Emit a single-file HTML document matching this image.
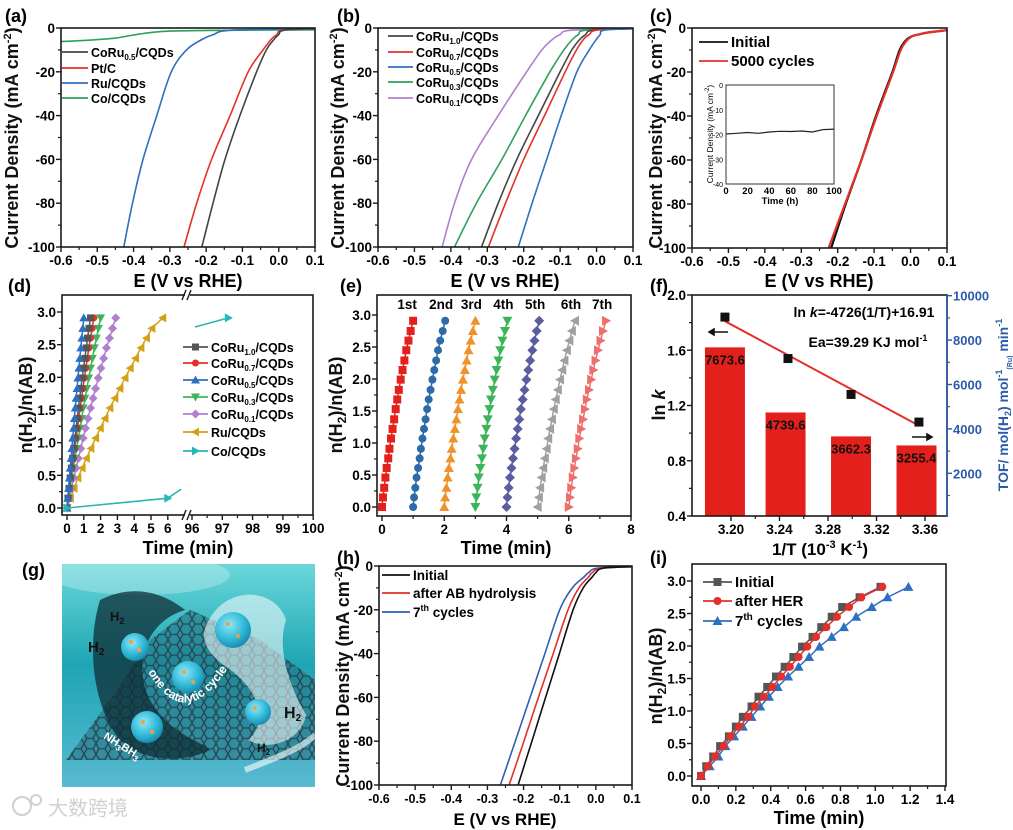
<!DOCTYPE html>
<html><head><meta charset="utf-8">
<style>
body{margin:0;background:#fff}
svg{display:block;font-family:"Liberation Sans","Noto Sans CJK SC",sans-serif;font-weight:bold}
</style></head>
<body>
<svg id="fig" xmlns="http://www.w3.org/2000/svg" width="1013" height="830" viewBox="0 0 1013 830">
<defs>
 <linearGradient id="bgG" x1="0" y1="0" x2="0" y2="1">
  <stop offset="0" stop-color="#6ad8da"/><stop offset="0.45" stop-color="#1ea5b4"/><stop offset="1" stop-color="#59b9d0"/>
 </linearGradient>
 <radialGradient id="sph" cx="0.4" cy="0.35" r="0.7">
  <stop offset="0" stop-color="#8fe8f5"/><stop offset="0.6" stop-color="#2fb8d8"/><stop offset="1" stop-color="#1686a8"/>
 </radialGradient>
 <pattern id="hex" width="12" height="10.4" patternUnits="userSpaceOnUse">
  <path d="M3 0 L9 0 L12 5.2 L9 10.4 L3 10.4 L0 5.2 Z" fill="none" stroke="#2a3a44" stroke-width="1.3"/>
 </pattern>
 <clipPath id="gclip"><rect x="62" y="564" width="253" height="223"/></clipPath>
</defs>

<g clip-path="url(#gclip)">
 <rect x="62" y="564" width="253" height="223" fill="url(#bgG)"/>
 <ellipse cx="140" cy="575" rx="90" ry="20" fill="#ffffff" opacity="0.25"/>
 <path d="M66 760 L110 700 L150 640 L190 610 L260 640 L315 680 L315 760 L200 760 Z" fill="#1f6f80" opacity="0.55"/>
 <path d="M66 760 L110 700 L150 640 L190 610 L260 640 L315 680 L315 760 L200 760 Z" fill="url(#hex)" opacity="0.85"/>
 <path d="M100 600 C130 585 160 590 185 610 C150 620 130 660 150 700 C170 735 200 740 210 750 C180 765 140 760 120 740 C95 710 85 650 100 600 Z" fill="#0f2e36" opacity="0.75"/>
 <path d="M210 620 C230 585 275 590 285 620 C275 650 290 690 305 715 C300 740 270 750 250 740 C275 715 250 680 225 665 C205 650 200 635 210 620 Z" fill="#ffffff" opacity="0.55" stroke="#ffffff" stroke-width="2"/>
 <circle cx="135" cy="647" r="14" fill="url(#sph)"/>
 <circle cx="188" cy="677" r="16" fill="url(#sph)"/>
 <circle cx="233" cy="630" r="18" fill="url(#sph)"/>
 <circle cx="258" cy="712" r="13" fill="url(#sph)"/>
 <circle cx="147" cy="727" r="16" fill="url(#sph)"/>
 <g fill="#f0a040">
  <circle cx="131" cy="642" r="2"/><circle cx="139" cy="650" r="2"/><circle cx="184" cy="672" r="2"/><circle cx="193" cy="682" r="2"/><circle cx="228" cy="624" r="2"/><circle cx="238" cy="636" r="2"/><circle cx="143" cy="722" r="2"/><circle cx="152" cy="732" r="2"/><circle cx="255" cy="708" r="2"/>
 </g>
 <path d="M245 770 C270 760 300 750 315 735" stroke="#ffffff" stroke-width="6" fill="none" opacity="0.6"/>
 <text x="110" y="621" font-size="13" fill="#111">H<tspan font-size="9" dy="3">2</tspan></text>
 <text x="88" y="652" font-size="15" fill="#111">H<tspan font-size="10" dy="3">2</tspan></text>
 <text x="284" y="718" font-size="16" fill="#111">H<tspan font-size="10" dy="3">2</tspan></text>
 <text x="257" y="752" font-size="12" fill="#111">H<tspan font-size="8" dy="3">2</tspan></text>
 <path id="arcP" d="M148 672 Q185 735 228 668" fill="none"/>
 <text font-size="12" fill="#ffffff"><textPath href="#arcP">one catalytic cycle</textPath></text>
 <text x="103" y="738" font-size="11" fill="#ffffff" transform="rotate(32 103 738)">NH<tspan font-size="8" dy="3">3</tspan><tspan dy="-3">BH</tspan><tspan font-size="8" dy="3">3</tspan></text>
</g>
<g>
 <circle cx="22" cy="806" r="9" fill="none" stroke="#d0d0d0" stroke-width="2"/>
 <circle cx="36" cy="800" r="5" fill="none" stroke="#d0d0d0" stroke-width="2"/>
 <text x="48" y="815" font-size="20" fill="#d0d0d0" font-weight="normal">大数跨境</text>
</g>
</svg>
<script>
// ---------- data ----------
const aCur=[-0.3,-1,-3,-5,-10,-20,-40,-60,-80,-100];
const aCoRu05=[0.1,0.015,0.0,-0.012,-0.034,-0.061,-0.107,-0.148,-0.181,-0.212];
const aPtC=[0.1,0.01,-0.005,-0.02,-0.043,-0.084,-0.134,-0.185,-0.226,-0.261];
const aRu=[0.1,-0.13,-0.18,-0.209,-0.254,-0.296,-0.336,-0.374,-0.403,-0.427];
const aCoE=[-0.6,-0.55,-0.5,-0.45,-0.4,-0.35,-0.3,-0.2,-0.1,0,0.1];
const aCoJ=[-6.2,-5.8,-5.3,-4.6,-3.2,-2.0,-1.4,-1.1,-1.0,-0.9,-0.8];

const bCur=[-0.3,-1,-3,-5,-10,-20,-40,-60,-80,-100];
const bCoRu10=[0.1,-0.01,-0.03,-0.045,-0.068,-0.1,-0.16,-0.219,-0.27,-0.316];
const bCoRu07=[0.1,0.0,-0.02,-0.035,-0.055,-0.086,-0.143,-0.2,-0.25,-0.297];
const bCoRu05=[0.1,0.02,0.01,0.0,-0.02,-0.054,-0.097,-0.137,-0.177,-0.215];
const bCoRu03=[0.1,-0.03,-0.05,-0.065,-0.09,-0.128,-0.195,-0.26,-0.33,-0.39];
const bCoRu01=[0.1,-0.07,-0.1,-0.12,-0.15,-0.192,-0.27,-0.343,-0.39,-0.424];

const cCur=[-1,-2,-3,-4,-6,-10,-20,-40,-60,-80,-100];
const cInitial=[0.1,0.05,0.02,0.0,-0.015,-0.03,-0.05,-0.095,-0.135,-0.178,-0.218];
const c5000=[0.1,0.05,0.02,0.002,-0.012,-0.027,-0.048,-0.093,-0.135,-0.18,-0.225];
const cInsetT=[0,10,20,30,40,50,60,70,80,90,100];
const cInsetJ=[-19.8,-19.5,-19.2,-19.5,-19,-18.7,-18.8,-18.6,-19,-18,-17.8];

const nY=[0,0.15,0.3,0.46,0.61,0.76,0.91,1.07,1.22,1.37,1.53,1.68,1.83,1.99,2.14,2.29,2.45,2.6,2.75,2.91];
const dCoRu10=[0,0.06,0.12,0.19,0.26,0.33,0.4,0.47,0.54,0.61,0.68,0.75,0.83,0.9,0.98,1.06,1.14,1.22,1.31,1.4];
const dCoRu07=[0,0.07,0.14,0.22,0.3,0.38,0.46,0.54,0.62,0.7,0.78,0.86,0.95,1.03,1.12,1.21,1.3,1.4,1.5,1.6];
const dCoRu05=[0,0.04,0.09,0.14,0.19,0.24,0.29,0.34,0.39,0.44,0.49,0.54,0.6,0.65,0.71,0.76,0.82,0.88,0.94,1.0];
const dCoRu03=[0,0.09,0.18,0.27,0.37,0.47,0.57,0.67,0.77,0.87,0.97,1.07,1.18,1.29,1.4,1.51,1.63,1.75,1.87,2.0];
const dCoRu01=[0,0.13,0.26,0.4,0.54,0.68,0.82,0.96,1.1,1.25,1.4,1.55,1.7,1.86,2.02,2.18,2.35,2.53,2.71,2.9];
const dRu=[0,0.2,0.42,0.65,0.9,1.15,1.42,1.7,1.98,2.26,2.55,2.85,3.15,3.45,3.76,4.08,4.4,4.73,5.05,5.7];
const dCoT=[0,6,6.8,96.1,97.2];
const dCoY=[0,0.15,0.29,2.77,2.91];

const e1=[0,0.03,0.07,0.11,0.15,0.2,0.24,0.29,0.34,0.39,0.44,0.49,0.54,0.6,0.66,0.72,0.78,0.85,0.92,1.0];
const e2=[1.0,1.03,1.07,1.11,1.16,1.21,1.25,1.3,1.35,1.4,1.45,1.5,1.56,1.62,1.68,1.74,1.8,1.87,1.95,2.03];
const e3=[2.0,2.03,2.07,2.11,2.15,2.2,2.24,2.29,2.34,2.39,2.44,2.49,2.54,2.6,2.66,2.72,2.78,2.85,2.92,3.0];
const e4=[3.0,3.03,3.07,3.11,3.16,3.21,3.25,3.3,3.35,3.4,3.45,3.5,3.56,3.62,3.68,3.74,3.8,3.87,3.95,4.03];
const e5=[4.0,4.03,4.07,4.11,4.16,4.21,4.26,4.31,4.36,4.41,4.46,4.52,4.58,4.64,4.7,4.76,4.83,4.9,4.97,5.05];
const e6=[5.0,5.04,5.08,5.13,5.18,5.23,5.29,5.34,5.4,5.46,5.52,5.58,5.65,5.72,5.79,5.86,5.94,6.02,6.1,6.2];
const e7=[6.0,6.04,6.08,6.13,6.18,6.23,6.29,6.34,6.4,6.46,6.52,6.58,6.65,6.72,6.79,6.86,6.94,7.02,7.1,7.2];
const eLabels=['1st','2nd','3rd','4th','5th','6th','7th'];

const fBarX=[3.195,3.245,3.299,3.353];
const fTOF=[7673.6,4739.6,3662.3,3255.4];
const fTOFLabels=['7673.6','4739.6','3662.3','3255.4'];
const fPtX=[3.195,3.247,3.299,3.355];
const fLnK=[1.84,1.54,1.28,1.08];
const fFitSlope=-4.726, fFitIntercept=16.91;
const fFitRange=[3.195,3.355];

const hCur=[-0.3,-1,-3,-5,-10,-20,-40,-60,-80,-100];
const hInitial=[0.1,0.02,0.0,-0.01,-0.035,-0.063,-0.101,-0.139,-0.177,-0.215];
const hAfterAB=[0.1,0.015,-0.01,-0.02,-0.047,-0.077,-0.118,-0.159,-0.199,-0.24];
const h7th=[0.1,0.005,-0.02,-0.033,-0.065,-0.1,-0.141,-0.182,-0.223,-0.264];

const iInitial=[0,0.03,0.07,0.11,0.16,0.2,0.24,0.29,0.33,0.38,0.43,0.48,0.53,0.58,0.64,0.69,0.75,0.81,0.91,1.03];
const iAfterHER=[0,0.04,0.08,0.13,0.17,0.22,0.27,0.31,0.36,0.41,0.46,0.51,0.56,0.61,0.66,0.72,0.78,0.85,0.92,1.04];
const i7th=[0,0.05,0.1,0.14,0.19,0.24,0.29,0.34,0.39,0.44,0.5,0.56,0.62,0.68,0.75,0.82,0.89,0.98,1.07,1.19];

// ---------- helpers ----------
const NS='http://www.w3.org/2000/svg';
const svg=document.getElementById('fig');
const defs=svg.querySelector('defs');
function mk(tag,attrs,parent){const e=document.createElementNS(NS,tag);for(const k in attrs)e.setAttribute(k,attrs[k]);(parent||svg).appendChild(e);return e;}
function lin(d0,d1,r0,r1){return v=>r0+(v-d0)/(d1-d0)*(r1-r0);}
function range(a,b,s){const o=[];for(let v=a;v<=b+1e-9;v+=s)o.push(+v.toFixed(6));return o;}
let clipN=0;
function clipFor(box){clipN++;const c=mk('clipPath',{id:'cp'+clipN},defs);mk('rect',{x:box.l,y:box.t,width:box.r-box.l,height:box.b-box.t},c);return 'url(#cp'+clipN+')';}

function frame(g,box){
 const r=mk('rect',{x:box.l,y:box.t,width:box.r-box.l,height:box.b-box.t,fill:'none',stroke:'#1a1a1a','stroke-width':1.6},g);
 
 
}
function xTicks(g,box,X,ticks,labels,minors,fs){
 ticks.forEach((v,i)=>{
  const l=mk('line',{x1:X(v),x2:X(v),y1:box.b,y2:box.b+5,stroke:'#1a1a1a','stroke-width':1.4},g);
  
  
  const t=mk('text',{x:X(v),y:box.b+18,'font-size':fs||13.5,'text-anchor':'middle'},g);
  t.textContent=labels[i];
  
  
 });
 minors.forEach(v=>{
  const l=mk('line',{x1:X(v),x2:X(v),y1:box.b,y2:box.b+3,stroke:'#1a1a1a','stroke-width':1.2},g);
  
  
 });
}
function yTicks(g,box,Y,ticks,labels,minors,fs){
 ticks.forEach((v,i)=>{
  const l=mk('line',{x1:box.l-5,x2:box.l,y1:Y(v),y2:Y(v),stroke:'#1a1a1a','stroke-width':1.4},g);
  
  
  const t=mk('text',{x:box.l-6,y:Y(v)+5,'font-size':fs||13.5,'text-anchor':'end'},g);
  t.textContent=labels[i];
  
  
 });
 minors.forEach(v=>{
  const l=mk('line',{x1:box.l-3,x2:box.l,y1:Y(v),y2:Y(v),stroke:'#1a1a1a','stroke-width':1.2},g);
  
  
 });
}
function xTitle(g,html,x,y,fs){
 const t=mk('text',{x:x,y:y,'font-size':fs||18,'text-anchor':'middle'},g);
 t.innerHTML=html;
 
 
}
function yTitle(g,html,x,y,fs,color){
 const t=mk('text',{x:x,y:y,'font-size':fs||18,'text-anchor':'middle',transform:`rotate(-90 ${x} ${y})`,fill:color||'#111'},g);
 t.innerHTML=html;
 
 
}
function plabel(s,x,y){
 const t=mk('text',{x:x,y:y,'font-size':18});
 t.textContent=s;
 
 
}
function line(g,xs,ys,X,Y,color,w,clip){
 const p=mk('polyline',{points:xs.map((v,i)=>X(v).toFixed(1)+','+Y(ys[i]).toFixed(1)).join(' '),fill:'none',stroke:color,'stroke-width':w||1.6,'stroke-linejoin':'round'},g);
 if(clip)p.setAttribute('clip-path',clip);
 return p;
}
function smooth(g,xs,ys,X,Y,color,w,clip){
 const P=xs.map((v,i)=>[X(v),Y(ys[i])]);
 let d='M'+P[0][0].toFixed(1)+' '+P[0][1].toFixed(1);
 for(let i=0;i<P.length-1;i++){
  const p0=P[i-1]||P[i],p1=P[i],p2=P[i+1],p3=P[i+2]||P[i+1];
  const c1=[p1[0]+(p2[0]-p0[0])/6,p1[1]+(p2[1]-p0[1])/6];
  const c2=[p2[0]-(p3[0]-p1[0])/6,p2[1]-(p3[1]-p1[1])/6];
  d+=` C${c1[0].toFixed(1)} ${c1[1].toFixed(1)} ${c2[0].toFixed(1)} ${c2[1].toFixed(1)} ${p2[0].toFixed(1)} ${p2[1].toFixed(1)}`;
 }
 const p=mk('path',{d:d,fill:'none',stroke:color,'stroke-width':w||1.6,'stroke-linejoin':'round'},g);
 if(clip)p.setAttribute('clip-path',clip);
 return p;
}
function marker(g,type,x,y,s,color){
 const h=s/2;let e;
 if(type==='sq')e=mk('rect',{x:x-h,y:y-h,width:s,height:s,fill:color},g);
 else if(type==='ci')e=mk('circle',{cx:x,cy:y,r:h,fill:color},g);
 else{
  let pts;
  if(type==='up')pts=[[x,y-h-1],[x+h+1,y+h],[x-h-1,y+h]];
  else if(type==='dn')pts=[[x,y+h+1],[x+h+1,y-h],[x-h-1,y-h]];
  else if(type==='lt')pts=[[x-h-1,y],[x+h,y-h-1],[x+h,y+h+1]];
  else if(type==='rt')pts=[[x+h+1,y],[x-h,y-h-1],[x-h,y+h+1]];
  else pts=[[x,y-h-1],[x+h+1,y],[x,y+h+1],[x-h-1,y]];
  e=mk('polygon',{points:pts.map(p=>p.join(',')).join(' '),fill:color},g);
 }
 return e;
}
function legendLine(g,x1,x2,y,color,label,fs,mtype,ms){
 const l=mk('line',{x1:x1,x2:x2,y1:y,y2:y,stroke:color,'stroke-width':1.8},g);
 
 
 if(mtype){
  const m=marker(g,mtype,(x1+x2)/2,y,ms||7,color);
  
  
 }
 const t=mk('text',{x:x2+3,y:y+5,'font-size':fs||12.5},g);
 t.innerHTML=label;
 
 
}
const SUB=s=>`<tspan font-size="8" dy="3">${s}</tspan><tspan dy="-3">`;
const CD='Current Density (mA cm<tspan font-size="11" dy="-7">-2</tspan><tspan dy="7">)</tspan>';
const NHAB='n(H<tspan font-size="12" dy="4">2</tspan><tspan dy="-4">)/n(AB)</tspan>';
function coru(x){return 'CoRu'+SUB(x)+'/CQDs</tspan>';}

const lsvXT=range(-0.6,0.1,0.1), lsvXL=['-0.6','-0.5','-0.4','-0.3','-0.2','-0.1','0.0','0.1'];
const lsvXM=range(-0.55,0.05,0.1);
const lsvYT=[0,-20,-40,-60,-80,-100], lsvYL=['0','-20','-40','-60','-80','-100'];
const lsvYM=[-10,-30,-50,-70,-90];

// ---------- panel a ----------
(function(){
 const g=mk('g',{});
 
 
 const box={l:61,r:315,t:28,b:247};
 const X=lin(-0.6,0.1,box.l,box.r), Y=lin(0,-100,box.t,box.b);
 const cp=clipFor(box);
 let p;
 p=smooth(g,aCoE,aCoJ,X,Y,'#2ea05a',1.6,cp);
 
 
 p=smooth(g,aRu,aCur,X,Y,'#2e6fc0',1.6,cp);
 
 
 p=smooth(g,aPtC,aCur,X,Y,'#e3302a',1.6,cp);
 
 
 p=smooth(g,aCoRu05,aCur,X,Y,'#444',1.6,cp);
 
 
 frame(g,box);
 xTicks(g,box,X,lsvXT,lsvXL,lsvXM);
 yTicks(g,box,Y,lsvYT,lsvYL,lsvYM);
 xTitle(g,'E (V vs RHE)',188,287);
 yTitle(g,CD,18,138);
 legendLine(g,62,88,52,'#444',coru('0.5'));
 legendLine(g,62,88,68,'#e3302a','Pt/C');
 legendLine(g,62,88,83,'#2e6fc0','Ru/CQDs');
 legendLine(g,62,88,98,'#2ea05a','Co/CQDs');
})();

// ---------- panel b ----------
(function(){
 const g=mk('g',{});
 
 
 const box={l:378,r:633,t:28,b:247};
 const X=lin(-0.6,0.1,box.l,box.r), Y=lin(0,-100,box.t,box.b);
 const cp=clipFor(box);
 let p;
 p=smooth(g,bCoRu01,bCur,X,Y,'#b07fd0',1.6,cp);
 
 
 p=smooth(g,bCoRu03,bCur,X,Y,'#2ea05a',1.6,cp);
 
 
 p=smooth(g,bCoRu10,bCur,X,Y,'#444',1.6,cp);
 
 
 p=smooth(g,bCoRu07,bCur,X,Y,'#e3302a',1.6,cp);
 
 
 p=smooth(g,bCoRu05,bCur,X,Y,'#2e6fc0',1.6,cp);
 
 
 frame(g,box);
 xTicks(g,box,X,lsvXT,lsvXL,lsvXM);
 yTicks(g,box,Y,lsvYT,lsvYL,lsvYM);
 xTitle(g,'E (V vs RHE)',505,287);
 yTitle(g,CD,344,138);
 legendLine(g,388,413,36,'#444',coru('1.0'));
 legendLine(g,388,413,52,'#e3302a',coru('0.7'));
 legendLine(g,388,413,67,'#2e6fc0',coru('0.5'));
 legendLine(g,388,413,82,'#2ea05a',coru('0.3'));
 legendLine(g,388,413,98,'#b07fd0',coru('0.1'));
})();

// ---------- panel c ----------
(function(){
 const g=mk('g',{});
 
 
 const box={l:692,r:947,t:28,b:248};
 const X=lin(-0.6,0.1,box.l,box.r), Y=lin(0,-100,box.t,box.b);
 const cp=clipFor(box);
 let p;
 p=smooth(g,cInitial,cCur,X,Y,'#111',2.2,cp);
 
 
 p=smooth(g,c5000,cCur,X,Y,'#e3302a',2.2,cp);
 
 
 frame(g,box);
 xTicks(g,box,X,lsvXT,lsvXL,lsvXM);
 yTicks(g,box,Y,lsvYT,lsvYL,lsvYM);
 xTitle(g,'E (V vs RHE)',819,287);
 yTitle(g,CD,662,138);
 legendLine(g,699,728,42,'#111','Initial',15);
 legendLine(g,699,728,61,'#e3302a','5000 cycles',15);
 const ib={l:726,r:834,t:85,b:184};
 const iX=lin(0,100,ib.l,ib.r), iY=lin(0,-40,ib.t,ib.b);
 const bg=mk('rect',{x:ib.l,y:ib.t,width:ib.r-ib.l,height:ib.b-ib.t,fill:'#fff'},g);
 
 
 p=line(g,cInsetT,cInsetJ,iX,iY,'#222',1.2);
 
 
 const fr=mk('rect',{x:ib.l,y:ib.t,width:ib.r-ib.l,height:ib.b-ib.t,fill:'none',stroke:'#333','stroke-width':1},g);
 
 
 [0,20,40,60,80,100].forEach(v=>{
  const t=mk('text',{x:iX(v),y:ib.b+10,'font-size':9.5,'text-anchor':'middle'},g);
  t.textContent=String(v);
  
  
 });
 [0,-10,-20,-30,-40].forEach(v=>{
  const t=mk('text',{x:ib.l-3,y:iY(v)+3,'font-size':7,'text-anchor':'end','font-weight':'normal'},g);
  t.textContent=String(v);
  
  
 });
 const tt=mk('text',{x:780,y:204,'font-size':9.5,'text-anchor':'middle'},g);
 tt.textContent='Time (h)';
 
 
 const yt=mk('text',{x:713,y:134,'font-size':8.5,'text-anchor':'middle','font-weight':'normal',transform:'rotate(-90 713 134)'},g);
 yt.innerHTML='Current Density (mA cm<tspan font-size="6" dy="-4">-2</tspan><tspan dy="4">)</tspan>';
 
 
})();

// ---------- panel d ----------
(function(){
 const g=mk('g',{});
 
 
 const box={l:62,r:313,t:295,b:515};
 const X=t=>t<=50?67+t*16.8:192+(t-96)*30.3;
 const Y=lin(0,3,508,312);
 const leftClip=clipFor({l:62,r:186,t:295,b:515});
 const rightClip=clipFor({l:189,r:313,t:295,b:515});
 const series=[
  [dRu,'#d4a017','lt','series-ru-cqds'],
  [dCoRu01,'#b07fd0','di','series-coru01'],
  [dCoRu03,'#3cb55a','dn','series-coru03'],
  [dCoRu07,'#e3302a','ci','series-coru07'],
  [dCoRu10,'#555','sq','series-coru10'],
  [dCoRu05,'#2e6fc0','up','series-coru05']];
 series.forEach(s=>{
  const p=line(g,s[0],nY,X,Y,s[1],1.5,leftClip);
  
  
  s[0].forEach((t,i)=>{
   const m=marker(g,s[2],X(t),Y(nY[i]),7,s[1]);
   
   
  });
 });
 let p=line(g,dCoT.slice(0,3),dCoY.slice(0,3),X,Y,'#2bb5b5',1.6,leftClip);
 
 
 p=line(g,dCoT.slice(3),dCoY.slice(3),X,Y,'#2bb5b5',1.6,rightClip);
 
 
 [0,1,4].forEach(i=>{
  const m=marker(g,'rt',X(dCoT[i]),Y(dCoY[i]),7,'#2bb5b5');
  
  
 });
 frame(g,box);
 const br=mk('rect',{x:185,y:290,width:5,height:230,fill:'#fff'},g);
 
 
 [295,515].forEach(yy=>{
  [184,189].forEach(xx=>{
   const l=mk('line',{x1:xx-2,y1:yy+5,x2:xx+2,y2:yy-5,stroke:'#1a1a1a','stroke-width':1.4},g);
   
   
  });
 });
 xTicks(g,box,X,[0,1,2,3,4,5,6,96,97,98,99,100],['0','1','2','3','4','5','6','96','97','98','99','100'],[96.5,97.5,98.5,99.5]);
 yTicks(g,box,Y,[0,0.5,1,1.5,2,2.5,3],['0.0','0.5','1.0','1.5','2.0','2.5','3.0'],[0.25,0.75,1.25,1.75,2.25,2.75]);
 xTitle(g,'Time (min)',188,554);
 yTitle(g,NHAB,32,405);
 const ly=[347,363,380,397,414,432,451];
 legendLine(g,183,208,ly[0],'#555',coru('1.0'),12.5,'sq');
 legendLine(g,183,208,ly[1],'#e3302a',coru('0.7'),12.5,'ci');
 legendLine(g,183,208,ly[2],'#2e6fc0',coru('0.5'),12.5,'up');
 legendLine(g,183,208,ly[3],'#3cb55a',coru('0.3'),12.5,'dn');
 legendLine(g,183,208,ly[4],'#b07fd0',coru('0.1'),12.5,'di');
 legendLine(g,183,208,ly[5],'#d4a017','Ru/CQDs',12.5,'lt');
 legendLine(g,183,208,ly[6],'#2bb5b5','Co/CQDs',12.5,'rt');
})();

// ---------- panel e ----------
(function(){
 const g=mk('g',{});
 
 
 const box={l:377,r:631,t:295,b:516};
 const X=lin(0,8,382,631), Y=lin(0,3,507,315);
 const series=[[e1,'#e3201b','sq'],[e2,'#2e6aa8','ci'],[e3,'#f0922b','up'],[e4,'#3cb55a','dn'],[e5,'#5a5ea0','di'],[e6,'#a0a0a0','lt'],[e7,'#ee6e6e','rt']];
 series.forEach((s,k)=>{
  const p=line(g,s[0],nY,X,Y,s[1],1.5);
  
  
  s[0].forEach((t,i)=>{
   const m=marker(g,s[2],X(t),Y(nY[i]),8,s[1]);
   
   
  });
  const lab=mk('text',{x:X(s[0][s[0].length-1])-4+(k===0?-2:0),y:309,'font-size':13.5,'text-anchor':'middle'},g);
  lab.textContent=eLabels[k];
  
  
 });
 frame(g,box);
 xTicks(g,box,X,[0,2,4,6,8],['0','2','4','6','8'],[1,3,5,7]);
 yTicks(g,box,Y,[0,0.5,1,1.5,2,2.5,3],['0.0','0.5','1.0','1.5','2.0','2.5','3.0'],[0.25,0.75,1.25,1.75,2.25,2.75]);
 xTitle(g,'Time (min)',506,554);
 yTitle(g,NHAB,342,405);
})();

// ---------- panel f ----------
(function(){
 const g=mk('g',{});
 
 
 const box={l:692,r:947,t:295,b:516};
 const X=lin(3.2,3.36,731,925), Y=lin(0.4,2.0,516,295), Y2=lin(0,10000,517.7,295.7);
 fBarX.forEach((v,i)=>{
  const b=mk('rect',{x:X(v)-20,y:Y2(fTOF[i]),width:40,height:box.b-Y2(fTOF[i]),fill:'#e3201b'},g);
  
  
  const t=mk('text',{x:X(v),y:Y2(fTOF[i])+17,'font-size':13,'text-anchor':'middle',fill:'#111'},g);
  t.textContent=fTOFLabels[i];
  
  
 });
 const fl=mk('line',{x1:X(fFitRange[0]),y1:Y(fFitSlope*fFitRange[0]+fFitIntercept),x2:X(fFitRange[1]),y2:Y(fFitSlope*fFitRange[1]+fFitIntercept),stroke:'#e3302a','stroke-width':2},g);
 
 
 fPtX.forEach((v,i)=>{
  const m=marker(g,'sq',X(v),Y(fLnK[i]),9,'#111');
  
  
 });
 frame(g,box);
 xTicks(g,box,X,[3.2,3.24,3.28,3.32,3.36],['3.20','3.24','3.28','3.32','3.36'],[3.22,3.26,3.3,3.34]);
 yTicks(g,box,Y,[0.4,0.8,1.2,1.6,2.0],['0.4','0.8','1.2','1.6','2.0'],[0.6,1.0,1.4,1.8]);
 const ra=mk('line',{x1:box.r,x2:box.r,y1:box.t,y2:box.b,stroke:'#2a5caa','stroke-width':1.6},g);
 
 
 [2000,4000,6000,8000,10000].forEach(v=>{
  const l=mk('line',{x1:box.r,x2:box.r+5,y1:Y2(v),y2:Y2(v),stroke:'#2a5caa','stroke-width':1.4},g);
  
  
  const t=mk('text',{x:box.r+6,y:Y2(v)+5,'font-size':13,fill:'#2a5caa'},g);
  t.textContent=String(v);
  
  
 });
 [1000,3000,5000,7000,9000].forEach(v=>{
  const l=mk('line',{x1:box.r,x2:box.r+3,y1:Y2(v),y2:Y2(v),stroke:'#2a5caa','stroke-width':1.2},g);
  
  
 });
 xTitle(g,'1/T (10<tspan font-size="11" dy="-7">-3</tspan><tspan dy="7"> K</tspan><tspan font-size="11" dy="-7">-1</tspan><tspan dy="7">)</tspan>',820,555,17);
 yTitle(g,'ln <tspan font-style="italic">k</tspan>',665,405,18);
 yTitle(g,'TOF/ mol(H<tspan font-size="9" dy="3">2</tspan><tspan dy="-3">) mol</tspan><tspan font-size="9" dy="-6">-1</tspan><tspan font-size="7" dy="10">(Ru)</tspan><tspan dy="-4"> min</tspan><tspan font-size="9" dy="-6">-1</tspan>',1008,405,14,'#2a5caa');
 let t=mk('text',{x:864,y:317,'font-size':14,'text-anchor':'middle'},g);
 t.innerHTML='ln <tspan font-style="italic">k</tspan>=-4726(1/T)+16.91';
 
 
 t=mk('text',{x:868,y:347,'font-size':14,'text-anchor':'middle'},g);
 t.innerHTML='Ea=39.29 KJ mol<tspan font-size="9" dy="-6">-1</tspan>';
 
 
 let a=mk('path',{d:'M728 332 L709 332 M709 332 L714 329 L714 335 Z',stroke:'#111','stroke-width':1.6,fill:'#111'},g);
 
 
 a=mk('path',{d:'M912 437 L932 437 M932 437 L927 434 L927 440 Z',stroke:'#111','stroke-width':1.6,fill:'#111'},g);
 
 
})();

// ---------- panel h ----------
(function(){
 const g=mk('g',{});
 
 
 const box={l:379,r:632,t:566,b:785};
 const X=lin(-0.6,0.1,box.l,box.r), Y=lin(0,-100,box.t,box.b);
 const cp=clipFor(box);
 let p=smooth(g,h7th,hCur,X,Y,'#2e5fb0',1.6,cp);
 
 
 p=smooth(g,hAfterAB,hCur,X,Y,'#e3302a',1.6,cp);
 
 
 p=smooth(g,hInitial,hCur,X,Y,'#111',1.6,cp);
 
 
 frame(g,box);
 xTicks(g,box,X,lsvXT,lsvXL,lsvXM,12.5);
 yTicks(g,box,Y,lsvYT,lsvYL,lsvYM);
 xTitle(g,'E (V vs RHE)',505,825,17);
 yTitle(g,CD,349,676);
 legendLine(g,382,410,575,'#111','Initial',13.5);
 legendLine(g,382,410,593,'#e3302a','after AB hydrolysis',13.5);
 legendLine(g,382,410,612,'#2e5fb0','7<tspan font-size="9" dy="-6">th</tspan><tspan dy="6"> cycles</tspan>',13.5);
})();

// ---------- panel i ----------
(function(){
 const g=mk('g',{});
 
 
 const box={l:692,r:946,t:564,b:786};
 const X=lin(0,1.4,701,945), Y=lin(0,3,776,581);
 const series=[[i7th,'#2e6fc0','up','series-7th-cycles'],[iInitial,'#555','sq','series-initial'],[iAfterHER,'#e3302a','ci','series-after-her']];
 series.forEach(s=>{
  const p=line(g,s[0],nY,X,Y,s[1],1.5);
  
  
  s[0].forEach((t,i)=>{
   const m=marker(g,s[2],X(t),Y(nY[i]),8,s[1]);
   
   
  });
 });
 frame(g,box);
 xTicks(g,box,X,[0,0.2,0.4,0.6,0.8,1.0,1.2,1.4],['0.0','0.2','0.4','0.6','0.8','1.0','1.2','1.4'],[0.1,0.3,0.5,0.7,0.9,1.1,1.3]);
 yTicks(g,box,Y,[0,0.5,1,1.5,2,2.5,3],['0.0','0.5','1.0','1.5','2.0','2.5','3.0'],[0.25,0.75,1.25,1.75,2.25,2.75]);
 xTitle(g,'Time (min)',819,824);
 yTitle(g,NHAB,662,676);
 legendLine(g,703,732,582,'#555','Initial',15,'sq',8);
 legendLine(g,703,732,601,'#e3302a','after HER',15,'ci',8);
 legendLine(g,703,732,621,'#2e6fc0','7<tspan font-size="10" dy="-6">th</tspan><tspan dy="6"> cycles</tspan>',15,'up',8);
})();

plabel('(a)',5,22);
plabel('(b)',337,22);
plabel('(c)',650,22);
plabel('(d)',8,292);
plabel('(e)',340,292);
plabel('(f)',650,292);
plabel('(g)',22,576);
plabel('(h)',337,564);
plabel('(i)',650,564);
</script>
</body></html>
